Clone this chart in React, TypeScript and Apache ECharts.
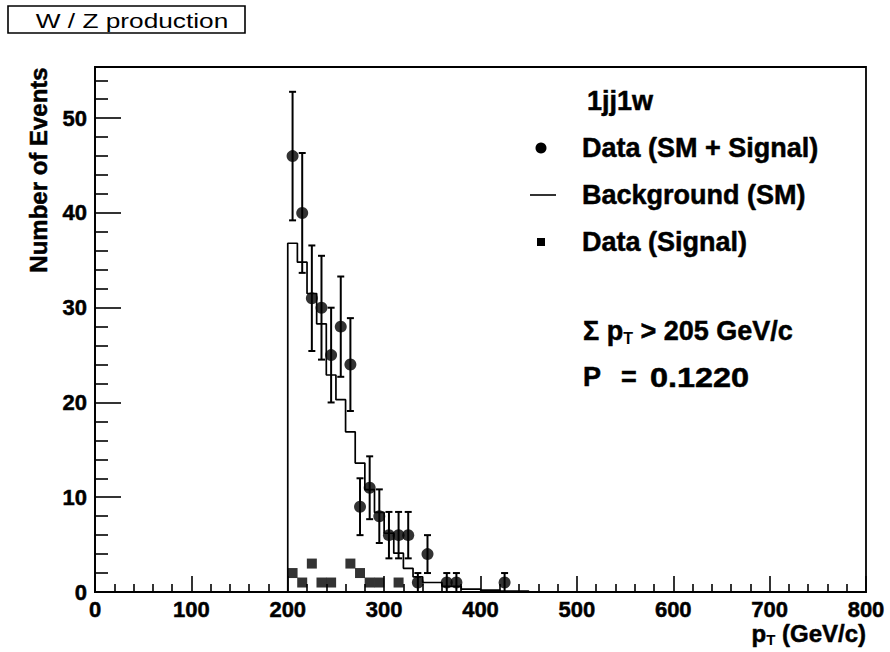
import React, { useEffect, useRef } from "react";
import * as echarts from "echarts";

// Histogram binning for the SM background (GeV/c)
const binLow = 200;
const binWidth = 10;
const backgroundCounts = [
  36.8, 34.8, 31.5, 28.3, 22.9, 20.3, 16.9, 13.6, 10.8, 8.4, 6.2, 4.1, 2.5,
  1.6, 1.0, 1.0, 0.6, 0.6, 0.3, 0.3, 0.2, 0.2, 0.1, 0.1, 0.1, 0,
];

// Data (SM + Signal): bin centres and counts
const dataPt = [205, 215, 225, 235, 245, 255, 265, 275, 285, 295, 305, 315, 325, 335, 345, 365, 375, 425];
const dataCounts = [46, 40, 31, 30, 25, 28, 24, 9, 11, 8, 6, 6, 6, 1, 4, 1, 1, 1];

// Data (Signal): bin centres and counts
const signalPt = [205, 215, 225, 235, 245, 265, 275, 285, 295, 315];
const signalCounts = [2, 1, 3, 1, 1, 3, 2, 1, 1, 1];

// Axis ranges and ticks
const xMin = 0;
const xMax = 800;
const xStep = 100;
const yMax = 55.4;
const yMajorTicks = [0, 10, 20, 30, 40, 50];
const yMinorTicks = [2, 4, 6, 8, 12, 14, 16, 18, 22, 24, 26, 28, 32, 34, 36, 38, 42, 44, 46, 48, 52, 54];

const FONT = '"Liberation Sans", Arial, Helvetica, sans-serif';
const BLACK = "#000";

export default function App() {
  const ref = useRef<HTMLDivElement>(null);

  useEffect(() => {
    if (!ref.current) return;
    const chart = echarts.init(ref.current, null, { renderer: "svg" });

    // Step outline of the background histogram
    const bgLine: number[][] = [[binLow, 0]];
    backgroundCounts.forEach((v, i) => bgLine.push([binLow + i * binWidth, v]));
    bgLine.push([binLow + backgroundCounts.length * binWidth, 0]);

    const dataPoints = dataPt.map((x, i) => [x, dataCounts[i]]);
    const signalPoints = signalPt.map((x, i) => [x, signalCounts[i]]);

    const tickLine = { color: BLACK, width: 1.6 };
    const labelStyle = {
      color: BLACK,
      fontFamily: FONT,
      fontWeight: "bold" as const,
      fontSize: 22,
      textBorderColor: BLACK,
      textBorderWidth: 0.5,
    };
    // thin outline that thickens the bold glyphs a little
    const heavy = { stroke: BLACK, lineWidth: 0.5 };
    const legendText = {
      fill: BLACK,
      font: `bold 27px ${FONT}`,
      verticalAlign: "middle" as const,
      ...heavy,
    };

    chart.setOption({
      animation: false,
      backgroundColor: "#fff",
      grid: {
        left: 95,
        top: 67,
        width: 771,
        height: 525,
        show: true,
        borderColor: BLACK,
        borderWidth: 1.8,
        backgroundColor: "transparent",
      },
      xAxis: {
        type: "value",
        min: xMin,
        max: xMax,
        interval: xStep,
        axisLine: { lineStyle: { color: BLACK, width: 1.8 } },
        axisTick: { inside: true, length: 16, lineStyle: tickLine },
        minorTick: { show: true, splitNumber: 5, length: 8, lineStyle: tickLine },
        splitLine: { show: false },
        minorSplitLine: { show: false },
        axisLabel: { ...labelStyle, margin: 6 },
      },
      yAxis: [
        {
          type: "value",
          min: 0,
          max: yMax,
          position: "left",
          axisLine: { show: true, lineStyle: { color: BLACK, width: 1.8 } },
          axisTick: { show: true, inside: true, length: 26, lineStyle: tickLine, customValues: yMajorTicks },
          axisLabel: { ...labelStyle, margin: 8, customValues: yMajorTicks },
          splitLine: { show: false },
        },
        {
          type: "value",
          min: 0,
          max: yMax,
          position: "left",
          axisLine: { show: false },
          axisTick: { show: true, inside: true, length: 13, lineStyle: tickLine, customValues: yMinorTicks },
          axisLabel: { show: false },
          splitLine: { show: false },
        },
      ],
      series: [
        {
          name: "Background (SM)",
          type: "line",
          step: "end",
          data: bgLine,
          symbol: "none",
          lineStyle: { color: BLACK, width: 1.7 },
          z: 2,
        },
        {
          name: "errors",
          type: "custom",
          data: dataPoints,
          z: 3,
          renderItem: (_params: any, api: any) => {
            const x = api.value(0);
            const v = api.value(1);
            const e = Math.sqrt(v);
            const top = api.coord([x, v + e]);
            const bot = api.coord([x, Math.max(v - e, 0)]);
            const cap = 3.5;
            const style = { stroke: BLACK, lineWidth: 2 };
            return {
              type: "group",
              children: [
                { type: "line", shape: { x1: top[0], y1: top[1], x2: bot[0], y2: bot[1] }, style },
                { type: "line", shape: { x1: top[0] - cap, y1: top[1], x2: top[0] + cap, y2: top[1] }, style },
                { type: "line", shape: { x1: bot[0] - cap, y1: bot[1], x2: bot[0] + cap, y2: bot[1] }, style },
              ],
            };
          },
        },
        {
          name: "Data (SM + Signal)",
          type: "scatter",
          data: dataPoints,
          symbol: "circle",
          symbolSize: 12,
          itemStyle: { color: BLACK },
          z: 4,
        },
        {
          name: "Data (Signal)",
          type: "scatter",
          data: signalPoints,
          symbol: "rect",
          symbolSize: 10,
          itemStyle: { color: BLACK },
          z: 4,
        },
      ],
      graphic: [
        // title box
        {
          type: "rect",
          shape: { x: 8, y: 6, width: 237, height: 27 },
          style: { fill: "none", stroke: BLACK, lineWidth: 1.6 },
        },
        {
          type: "text",
          x: 132,
          y: 20,
          scaleX: 1.25,
          style: {
            text: "W / Z production",
            fill: BLACK,
            font: `21px ${FONT}`,
            align: "center",
            verticalAlign: "middle",
          },
        },
        // y-axis title
        {
          type: "text",
          x: 38,
          y: 170,
          rotation: Math.PI / 2,
          style: {
            text: "Number of Events",
            fill: BLACK,
            font: `bold 24px ${FONT}`,
            align: "center",
            verticalAlign: "middle",
            ...heavy,
          },
        },
        // x-axis title
        {
          type: "text",
          x: 866,
          y: 633,
          style: {
            text: "{m|p}{s|T}{m| (GeV/c)}",
            align: "right",
            verticalAlign: "middle",
            rich: {
              m: { fill: BLACK, font: `bold 24px ${FONT}`, lineHeight: 28, ...heavy },
              s: { fill: BLACK, font: `bold 15px ${FONT}`, lineHeight: 15, verticalAlign: "bottom" },
            },
          },
        },
        // legend
        { type: "text", x: 587, y: 101, style: { ...legendText, text: "1jj1w" } },
        { type: "circle", shape: { cx: 541, cy: 148, r: 5.5 }, style: { fill: BLACK } },
        { type: "text", x: 582, y: 148, style: { ...legendText, text: "Data (SM + Signal)" } },
        { type: "line", shape: { x1: 530, y1: 195, x2: 556, y2: 195 }, style: { stroke: BLACK, lineWidth: 1.6 } },
        { type: "text", x: 582, y: 195, style: { ...legendText, text: "Background (SM)" } },
        { type: "rect", shape: { x: 537, y: 238, width: 8, height: 8 }, style: { fill: BLACK } },
        { type: "text", x: 582, y: 242, style: { ...legendText, text: "Data (Signal)" } },
        {
          type: "text",
          x: 583,
          y: 331,
          style: {
            text: "{m|Σ p}{s|T}{m| > 205 GeV/c}",
            verticalAlign: "middle",
            rich: {
              m: { fill: BLACK, font: `bold 27px ${FONT}`, lineHeight: 30, ...heavy },
              s: { fill: BLACK, font: `bold 16px ${FONT}`, lineHeight: 16, verticalAlign: "bottom" },
            },
          },
        },
        { type: "text", x: 583, y: 377, style: { ...legendText, text: "P" } },
        { type: "text", x: 621, y: 377, style: { ...legendText, text: "=" } },
        { type: "text", x: 650, y: 377, scaleX: 1.2, style: { ...legendText, text: "0.1220" } },
      ],
    });

    return () => chart.dispose();
  }, []);

  return (
    <div
      ref={ref}
      style={{ position: "fixed", left: 0, top: 0, width: 890, height: 652, background: "#fff" }}
    />
  );
}
